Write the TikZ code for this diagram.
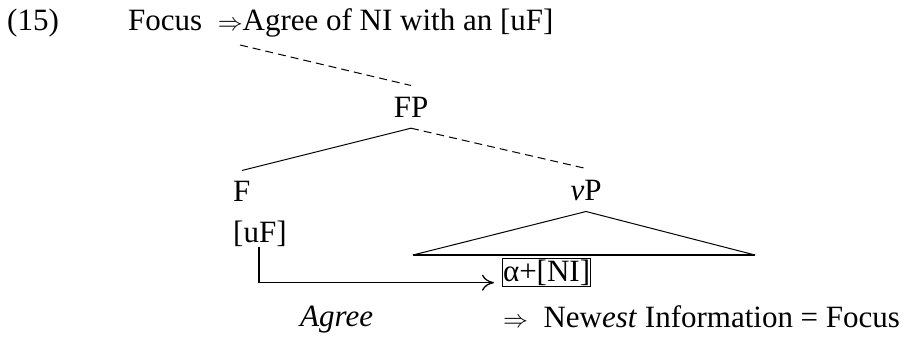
\documentclass[tikz,border=0pt]{standalone}
\usepackage{fontspec}
\setmainfont{Liberation Serif}
\usetikzlibrary{arrows.meta}
\newcommand\diagfont{\fontsize{31}{36}\selectfont}
\begin{document}
\begin{tikzpicture}[x=1pt, y=-1pt, every node/.style={font=\diagfont},
  label/.style={inner sep=0pt, anchor=base west},
  cat/.style={inner xsep=0pt, inner ysep=10pt, anchor=base},
  branch/.style={line width=1pt},
  link/.style={line width=1pt, dash pattern=on 8pt off 5pt},
  agreearrow/.style={line width=1.6pt, -{To[length=12pt, width=16pt, line width=1.3pt]}}]
  \useasboundingbox (0,0) rectangle (904,337);
  % example number and heading
  \node[label] (ex) at (7,31) {(15)};
  \node[label] (head) at (128,31) {Focus\hspace{0.5em}$\Rightarrow$Agree of NI with an [uF]};
  \coordinate (hd) at (240,45);
  % tree
  \node[cat, inner ysep=11pt] (FP) at (411,117) {FP};
  \node[cat, anchor=base west, inner ysep=10pt] (F) at (233,201) {F};
  \node[cat, inner ysep=11pt] (vP) at (586,200) {\textit{v}P};
  \node[label] (uF) at (233,242) {[uF]};
  \node[draw, line width=1pt, inner xsep=0.5pt, inner ysep=1pt, anchor=north west] (NI) at (502,258) {α+[NI]};
  \coordinate (tl) at (413,255);
  \coordinate (tr) at (755,255);
  \draw[link] (hd) -- (FP.north);
  \draw[branch] (FP.south) -- (F.north);
  \draw[link] (FP.south) -- (vP.north);
  \draw[branch] (tl) -- (vP.south) -- (tr);
  \draw[line width=1.8pt] (tl) -- (tr);
  \draw[agreearrow] ([xshift=26pt, yshift=-5pt]uF.base west) |- ([xshift=-8pt, yshift=4pt]NI.south west);
  % bottom line
  \node[label] (agree) at (300,326) {\textit{Agree}};
  \node[label] (newest) at (503,327) {$\Rightarrow$\ \ New\textit{est} Information = Focus};
\end{tikzpicture}
\end{document}
